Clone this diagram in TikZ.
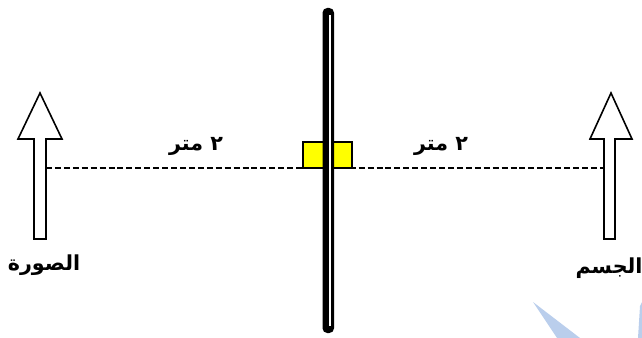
\documentclass[tikz,border=0pt]{standalone}
\usepackage{fontspec}
\TeXXeTstate=1
\newfontfamily\arabicfont[Script=Arabic]{DejaVu Sans}
\definecolor{wmblue}{RGB}{186,206,236}
\definecolor{lensyellow}{RGB}{255,255,0}
\begin{document}
\begin{tikzpicture}[x=0.75pt,y=-0.75pt,
  arrowbody/.style={draw=black,line width=1.2pt,fill=white,line join=miter},
  distline/.style={draw=black,line width=1.1pt,dash pattern=on 4.5pt off 2.2pt},
  lbl/.style={inner sep=0pt,font=\arabicfont\bfseries\fontsize{15.5}{18}\selectfont}]
\useasboundingbox (0,0) rectangle (642,338);
% watermark
\fill[wmblue] (533,302) -- (580,338) -- (557,338) -- cycle;
\fill[wmblue] (640,306) -- (642,302) -- (642,338) -- (638,338) -- cycle;
% coordinates
\coordinate (imgfoot) at (46,168);
\coordinate (objfoot) at (604,168);
% dashed axis
\draw[distline] (imgfoot) -- (objfoot);
% image arrow (left)
\draw[arrowbody] (40,93) -- (62,139) -- (46,139) -- (46,239) -- (34,239) -- (34,139) -- (18,139) -- cycle;
% object arrow (right)
\draw[arrowbody] (611,93) -- (632,139) -- (615,139) -- (615,239) -- (604,239) -- (604,139) -- (590,139) -- cycle;
% yellow box
\draw[fill=lensyellow,draw=black,line width=0.8pt] (303,142) rectangle (352,168);
% mirror
\fill[black,rounded corners=3.5pt] (322.5,8) rectangle (334,333);
\draw[white,line width=0.9pt] (330,15) -- (330,326);
% labels
\node[lbl] (dl) at (196,146) {\beginR ٢ متر\endR};
\node[lbl] (dr) at (441,146) {\beginR ٢ متر\endR};
\node[lbl] (img) at (44,265) {\beginR الصورة\endR};
\node[lbl] (obj) at (609,268) {\beginR الجسم\endR};
\end{tikzpicture}
\end{document}
